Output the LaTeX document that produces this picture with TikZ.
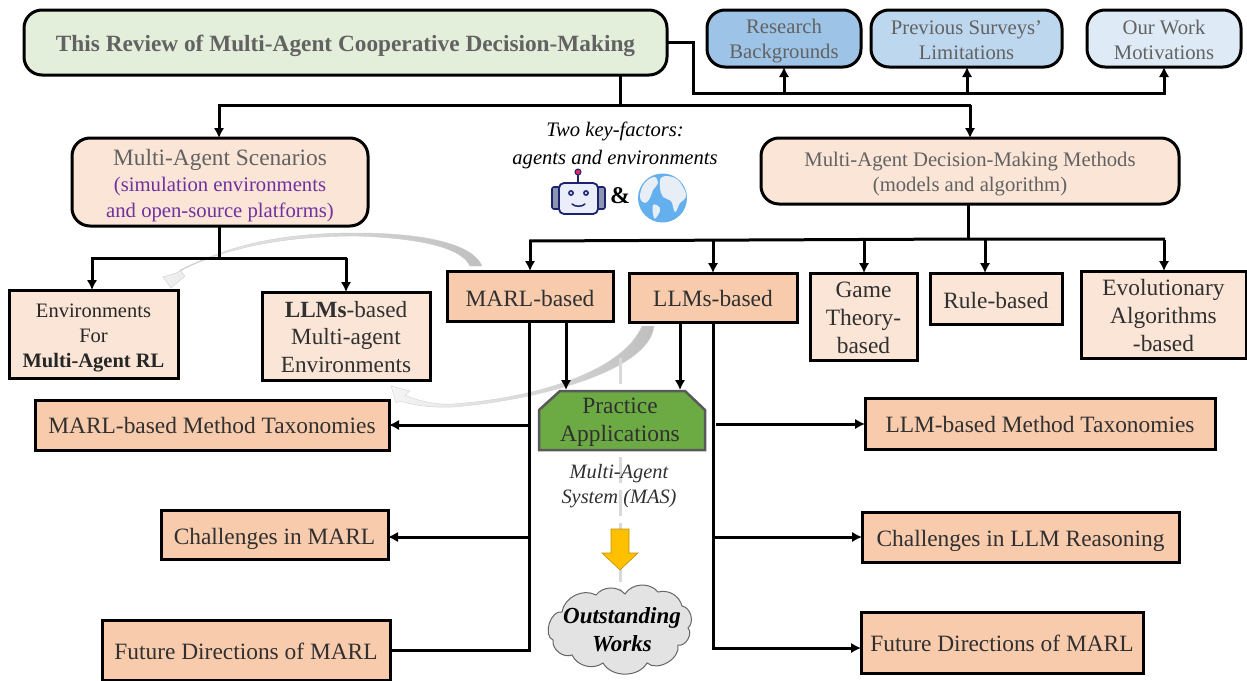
\documentclass[tikz,border=0pt]{standalone}
\usepackage{fontspec}
\setmainfont{Liberation Serif}
\usetikzlibrary{arrows.meta,calc}
\definecolor{tg}{HTML}{303030}
\definecolor{hg}{HTML}{626262}
\definecolor{pur}{HTML}{7030A0}
\definecolor{pk}{HTML}{FBE5D6}
\definecolor{og}{HTML}{F8CBAD}
\definecolor{rb}{RGB}{28,35,110}
\tikzset{
  x=1pt,y=-1pt,
  box/.style={draw=black,line width=3pt,outer sep=0pt,inner sep=0pt,align=center,text=tg},
  rbox/.style={box,rounded corners=18pt},
  conn/.style={draw=black,line width=3pt,line join=miter},
  arr/.style={conn,-{Latex[length=10pt,width=10.5pt]}},
  big/.style={font=\fontsize{23.4}{28}\selectfont},
  mid/.style={font=\fontsize{20.7}{25}\selectfont},
}
\newcommand{\bx}[8][]{%
  \pgfmathsetmacro{\bxw}{#5-#3}\pgfmathsetmacro{\bxh}{#6-#4}%
  \pgfmathsetmacro{\bxcx}{(#5+#3)/2}\pgfmathsetmacro{\bxcy}{(#6+#4)/2}%
  \pgfmathsetmacro{\bxty}{\bxcy+#7}%
  \node[#1,minimum width=\bxw pt,minimum height=\bxh pt] (#2) at (\bxcx,\bxcy) {};
  \node[#1,draw=none,fill=none] (#2t) at (\bxcx,\bxty) {#8};}
\begin{document}
\begin{tikzpicture}
\useasboundingbox (0,0) rectangle (1247,680);
% gray swooshes
\path[left color=gray!12,right color=gray!50,draw=gray!40,line width=.4pt]
  (482,266) .. controls (470,238) and (400,233) .. (357,233)
  .. controls (285,233) and (235,243) .. (180,270) -- (185,276) -- (171,288) -- (163,277) -- (176,273)
  .. controls (225,247) and (285,236) .. (357,236)
  .. controls (410,238) and (460,245) .. (470,266) -- cycle;
\path[left color=gray!8,right color=gray!50,draw=gray!35,line width=.4pt]
  (654,326) .. controls (650,370) and (540,400) .. (453,407)
  .. controls (430,408) and (412,405) .. (400,401) -- (396,403) -- (391,386) -- (410,391) -- (405,395)
  .. controls (420,402) and (440,405) .. (453,404)
  .. controls (535,398) and (622,372) .. (642,326) -- cycle;
% dashed axis
\coordinate (dashtop) at (620,358);
\coordinate (dashbot) at (620,592);
\draw[draw=gray!30,line width=3pt,dash pattern=on 26pt off 7pt] (dashtop) -- (dashbot);
% boxes
\bx[rbox,fill={rgb,255:red,227;green,239;blue,218},font=\fontsize{23.3}{28}\selectfont\bfseries,text=hg]{main}{24}{10}{667}{75}{3}{This Review of Multi-Agent Cooperative Decision-Making}
\bx[rbox,fill={rgb,255:red,157;green,195;blue,230},text=hg,mid]{res}{707}{10}{861}{67}{3}{Research\\Backgrounds}
\bx[rbox,fill={rgb,255:red,189;green,215;blue,238},text=hg,mid]{prev}{871}{10}{1062}{67}{2}{Previous Surveys’\\Limitations}
\bx[rbox,fill={rgb,255:red,222;green,235;blue,247},text=hg,mid]{our}{1087}{10}{1241}{67}{1}{Our Work\\Motivations}
\bx[rbox,fill=pk,text=hg,font=\fontsize{20.7}{26}\selectfont]{scen}{72}{138}{368}{226}{4}{{\fontsize{23.4}{26}\selectfont Multi-Agent Scenarios}\\\textcolor{pur}{(simulation environments}\\\textcolor{pur}{and open-source platforms)}}
\bx[rbox,fill=pk,text=hg,mid]{meth}{761}{138}{1179}{204}{3}{Multi-Agent Decision-Making Methods\\(models and algorithm)}
\bx[box,fill=pk,text=black!85,font=\fontsize{20.5}{25}\selectfont]{envrl}{9}{290}{178}{378}{4}{Environments\\For\\\textbf{Multi-Agent RL}}
\bx[box,fill=pk,font=\fontsize{23.2}{27.5}\selectfont]{envllm}{262}{292}{430}{380}{1}{\textbf{LLMs}-based\\Multi-agent\\Environments}
\bx[box,fill=og,big]{marl}{447}{271}{613}{321}{2}{MARL-based}
\bx[box,fill=og,big]{llm}{629}{273}{797}{322}{1}{LLMs-based}
\bx[box,fill=pk,big]{game}{810}{273}{917}{360}{1}{Game\\Theory-\\based}
\bx[box,fill=pk,big]{rule}{930}{273}{1062}{324}{1.5}{Rule-based}
\bx[box,fill=pk,big]{evo}{1081}{271}{1246}{358}{1}{Evolutionary\\Algorithms\\-based}
\bx[box,fill=og,big]{mtax}{35}{400}{389}{450}{0.5}{MARL-based Method Taxonomies}
\bx[box,fill=og,big]{mchal}{161}{510}{388}{559}{4}{Challenges in MARL}
\bx[box,fill=og,big]{mfut}{102}{620}{390}{680}{1.5}{Future Directions of MARL}
\bx[box,fill=og,big]{ltax}{865}{398}{1215}{449}{1}{LLM-based Method Taxonomies}
\bx[box,fill=og,big]{lchal}{862}{512}{1179}{562}{4}{Challenges in LLM Reasoning}
\bx[box,fill=og,big]{lfut}{861}{612}{1143}{673}{1}{Future Directions of MARL}
% practice
\draw[draw=gray!70!black,line width=2.5pt,fill={rgb,255:red,108;green,170;blue,68},line join=miter]
  (560,391) -- (685,391) -- (705,410) -- (705,450) -- (539,450) -- (539,410) -- cycle;
\coordinate (ptop1) at (566,390);
\coordinate (ptop2) at (680,390);
\node[align=center,text=tg,big] (prac) at (620,422) {Practice\\Applications};
% connectors: top
\coordinate (t1) at (620,105);
\draw[conn] (main.south -| t1) -- (t1);
\draw[conn] (218,105) -- (971,105);
\draw[arr] (219,105) -- (scen.north -| 219,105);
\draw[arr] (970,105) -- (meth.north -| 970,105);
% top right
\coordinate (b1) at (693,93);
\draw[conn] (main.east |- 0,42) -- (693,42) -- (b1) -- (1166,93);
\draw[arr] (784,93) -- (res.south -| 784,0);
\draw[arr] (967,93) -- (prev.south -| 967,0);
\draw[arr] (1164,93) -- (our.south -| 1164,0);
% scenarios
\draw[conn] (scen.south -| 219,0) -- (219,258);
\draw[conn] (91,258) -- (347,258);
\draw[arr] (92,258) -- (envrl.north -| 92,0);
\draw[arr] (346,258) -- (envllm.north -| 346,0);
% methods
\draw[conn] (meth.south -| 968,0) -- (968,240);
\draw[conn] (529,241) -- (968,239) -- (1165,239);
\draw[arr] (530,241) -- (marl.north -| 530,0);
\draw[arr] (713,240) -- (llm.north -| 713,0);
\draw[arr] (864,240) -- (game.north -| 864,0);
\draw[arr] (985,240) -- (rule.north -| 985,0);
\draw[arr] (1164,240) -- (evo.north -| 1164,0);
% MARL trunk
\draw[conn] (marl.south -| 529,0) -- (529,650) -- (mfut.east |- 0,650);
\draw[arr] (529,425) -- (mtax.east |- 0,425);
\draw[arr] (529,537) -- (mchal.east |- 0,537);
\draw[arr] (566,321) -- (ptop1);
\draw[arr] (680,322) -- (ptop2);
% LLM trunk
\draw[conn] (llm.south -| 713,0) -- (713,648);
\draw[arr] (712,648) -- (lfut.west |- 0,648);
\draw[arr] (716,424) -- (ltax.west |- 0,424);
\draw[arr] (713,537) -- (lchal.west |- 0,537);
% texts
\node[align=center,font=\fontsize{20.6}{27.5}\selectfont\itshape] (key) at (615,145.5) {Two key-factors:\\agents and environments};
\node[align=center,text=tg,font=\fontsize{20.4}{24.5}\selectfont\itshape] (mas) at (619,486) {Multi-Agent\\System (MAS)};
\node[font=\fontsize{24}{28}\selectfont\bfseries] (amp) at (620,196) {\&};
% robot
\draw[draw=rb,line width=1.6pt,fill={rgb,255:red,140;green,150;blue,175},rounded corners=2pt] (552,187) rectangle (560,209);
\draw[draw=rb,line width=1.6pt,fill={rgb,255:red,140;green,150;blue,175},rounded corners=2pt] (597,187) rectangle (605,209);
\draw[draw=rb,line width=1.6pt] (578,175) -- (578,183);
\draw[draw=rb,line width=1pt,fill={rgb,255:red,230;green,40;blue,90}] (578,172) circle (3pt);
\draw[draw=rb,line width=1.8pt,fill={rgb,255:red,234;green,238;blue,250},rounded corners=5pt] (559,183) rectangle (598,214);
\draw[draw=rb,line width=1.4pt,fill={rgb,255:red,190;green,200;blue,230}] (571,193) circle (2.2pt);
\draw[draw=rb,line width=1.4pt,fill={rgb,255:red,190;green,200;blue,230}] (586,193) circle (2.2pt);
\draw[draw=rb,line width=1.5pt,line cap=round] (572,204) .. controls (575,207) and (582,207) .. (585,204);
% globe
\fill[fill={rgb,255:red,100;green,176;blue,238}] (662.5,198) circle (24.5pt);
\fill[fill={rgb,255:red,232;green,238;blue,246}] plot[smooth cycle,tension=.7] coordinates {(644,184) (654,177) (658,183) (653,190) (650,198) (645,203) (640,197)};
\fill[fill={rgb,255:red,232;green,238;blue,246}] plot[smooth cycle,tension=.7] coordinates {(662,177) (675,178) (683,187) (686,197) (680,203) (675,212) (671,201) (663,197) (660,187)};
\fill[fill={rgb,255:red,232;green,238;blue,246}] plot[smooth cycle,tension=.7] coordinates {(653,205) (660,208) (658,215) (654,218)};
% yellow arrow
\draw[draw={rgb,255:red,191;green,144;blue,0},line width=.6pt,fill={rgb,255:red,255;green,192;blue,0}]
  (611,529) -- (629,529) -- (629,553) -- (638,553) -- (620,570) -- (602,553) -- (611,553) -- cycle;
% cloud
\draw[draw=gray!80!black,line width=1pt,fill=gray!22]
  (562,612) to[bend left=55] (596,595) to[bend left=50] (625,594) to[bend left=55] (658,592)
  to[bend left=45] (682,606) to[bend left=65] (688,628) to[bend left=75] (678,645)
  to[bend left=70] (647,663) to[bend left=60] (603,663) to[bend left=50] (572,655)
  to[bend left=60] (553,640) to[bend left=85] (562,612) -- cycle;
\node[align=center,font=\fontsize{23}{28}\selectfont\bfseries\itshape] (cloudt) at (622,630) {Outstanding\\Works};
\end{tikzpicture}
\end{document}
